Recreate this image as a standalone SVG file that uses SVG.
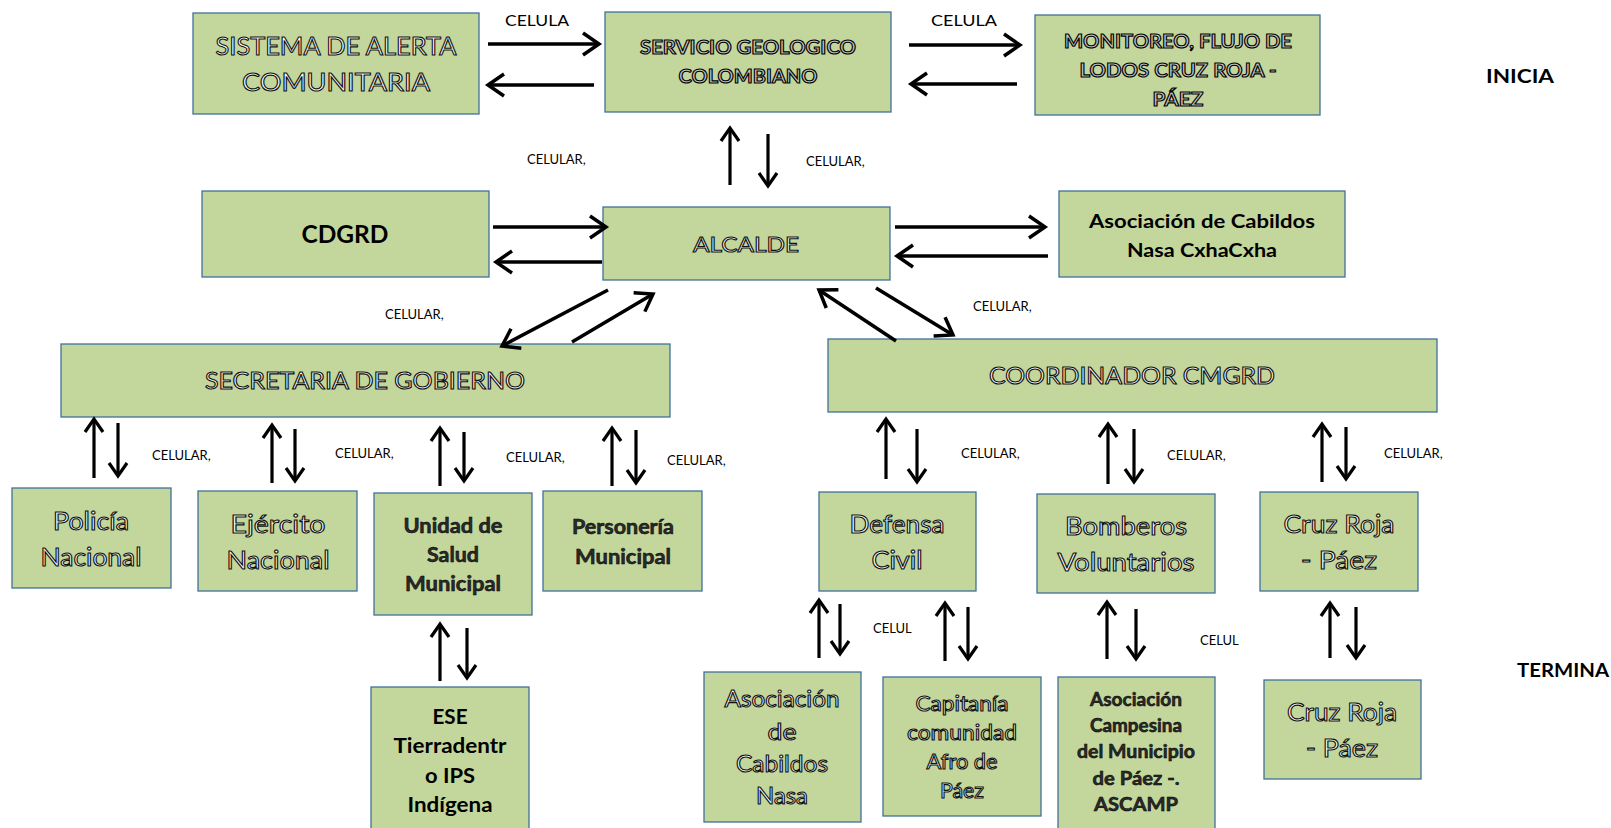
<svg xmlns="http://www.w3.org/2000/svg" width="1611" height="828" viewBox="0 0 1611 828">
<style>
.box{fill:#c3d69b;stroke:#41719c;stroke-width:1.3}
.ol{font-family:Lato,"Noto Sans",sans-serif;fill:#fff;stroke:#111;stroke-width:1.1;text-anchor:middle}
.olb{font-family:Lato,"Noto Sans",sans-serif;font-weight:bold;fill:#2b2b2b;stroke:#000;stroke-width:0.5;text-anchor:middle}
.olg{font-family:Lato,"Noto Sans",sans-serif;font-weight:bold;fill:#c4c4c4;stroke:#000;stroke-width:1.1;text-anchor:middle}
.blk{font-family:Lato,"Noto Sans",sans-serif;font-weight:bold;fill:#000;text-anchor:middle}
.lbl{font-family:Lato,"Noto Sans",sans-serif;font-size:13px;fill:#000}
.arr{stroke:#000;stroke-width:3.5;fill:none;marker-end:url(#ah)}
.va{stroke:#000;stroke-width:3.2;fill:none;marker-end:url(#ahs)}
</style>
<defs>
<marker id="ah" markerUnits="userSpaceOnUse" markerWidth="26" markerHeight="28" viewBox="-22 -14 26 28" refX="0" refY="0" orient="auto">
<path d="M-16,-11 L0,0 L-16,11" fill="none" stroke="#000" stroke-width="3.5"/>
</marker>
<marker id="ahs" markerUnits="userSpaceOnUse" markerWidth="22" markerHeight="24" viewBox="-18 -12 22 24" refX="0" refY="0" orient="auto">
<path d="M-13,-9 L0,0 L-13,9" fill="none" stroke="#000" stroke-width="3.2"/>
</marker>
</defs>

<g id="sistema">
<rect class="box" x="193" y="13" width="286" height="101"/>
<text class="ol" font-size="25"><tspan x="336" y="55" textLength="241" lengthAdjust="spacingAndGlyphs">SISTEMA DE ALERTA</tspan><tspan x="336" y="91" textLength="188" lengthAdjust="spacingAndGlyphs">COMUNITARIA</tspan></text>
</g>
<g id="servicio">
<rect class="box" x="605" y="12" width="286" height="100"/>
<text class="olg" font-size="19"><tspan x="748" y="54" textLength="216" lengthAdjust="spacingAndGlyphs">SERVICIO GEOLOGICO</tspan><tspan x="748" y="83" textLength="139" lengthAdjust="spacingAndGlyphs">COLOMBIANO</tspan></text>
</g>
<g id="monitoreo">
<rect class="box" x="1035" y="15" width="285" height="100"/>
<text class="olg" font-size="19"><tspan x="1178" y="48" textLength="228" lengthAdjust="spacingAndGlyphs">MONITOREO, FLUJO DE</tspan><tspan x="1178" y="77" textLength="197" lengthAdjust="spacingAndGlyphs">LODOS CRUZ ROJA -</tspan><tspan x="1178" y="106" textLength="51" lengthAdjust="spacingAndGlyphs">PÁEZ</tspan></text>
</g>
<g id="inicia"><text class="blk" font-size="19" x="1520" y="83" textLength="68" lengthAdjust="spacingAndGlyphs">INICIA</text></g>
<g id="termina"><text class="blk" font-size="19" x="1563" y="677" textLength="92" lengthAdjust="spacingAndGlyphs">TERMINA</text></g>

<g id="cdgrd">
<rect class="box" x="202" y="191" width="287" height="86"/>
<text class="blk" font-size="24" x="345" y="243" textLength="87" lengthAdjust="spacingAndGlyphs">CDGRD</text>
</g>
<g id="alcalde">
<rect class="box" x="603" y="207" width="287" height="73"/>
<text class="ol" font-size="22" x="746" y="252" textLength="106" lengthAdjust="spacingAndGlyphs">ALCALDE</text>
</g>
<g id="cxhacxha">
<rect class="box" x="1059" y="191" width="286" height="86"/>
<text class="blk" font-size="19"><tspan x="1202" y="228" textLength="226" lengthAdjust="spacingAndGlyphs">Asociación de Cabildos</tspan><tspan x="1202" y="257" textLength="150" lengthAdjust="spacingAndGlyphs">Nasa CxhaCxha</tspan></text>
</g>
<g id="secretaria">
<rect class="box" x="61" y="344" width="609" height="73"/>
<text class="ol" font-size="23" x="365" y="389" textLength="320" lengthAdjust="spacingAndGlyphs">SECRETARIA DE GOBIERNO</text>
</g>
<g id="coordinador">
<rect class="box" x="828" y="339" width="609" height="73"/>
<text class="ol" font-size="23" x="1132" y="384" textLength="286" lengthAdjust="spacingAndGlyphs">COORDINADOR CMGRD</text>
</g>

<g id="policia">
<rect class="box" x="12" y="488" width="159" height="100"/>
<text class="ol" font-size="25"><tspan x="91" y="530" textLength="76" lengthAdjust="spacingAndGlyphs">Policía</tspan><tspan x="91" y="566" textLength="101" lengthAdjust="spacingAndGlyphs">Nacional</tspan></text>
</g>
<g id="ejercito">
<rect class="box" x="198" y="491" width="159" height="100"/>
<text class="ol" font-size="25"><tspan x="278" y="533" textLength="95" lengthAdjust="spacingAndGlyphs">Ejército</tspan><tspan x="278" y="569" textLength="103" lengthAdjust="spacingAndGlyphs">Nacional</tspan></text>
</g>
<g id="unidad">
<rect class="box" x="374" y="493" width="158" height="122"/>
<text class="olb" font-size="20"><tspan x="453" y="533" textLength="99" lengthAdjust="spacingAndGlyphs">Unidad de</tspan><tspan x="453" y="562" textLength="52" lengthAdjust="spacingAndGlyphs">Salud</tspan><tspan x="453" y="591" textLength="96" lengthAdjust="spacingAndGlyphs">Municipal</tspan></text>
</g>
<g id="personeria">
<rect class="box" x="543" y="491" width="159" height="100"/>
<text class="olb" font-size="20"><tspan x="623" y="534" textLength="102" lengthAdjust="spacingAndGlyphs">Personería</tspan><tspan x="623" y="564" textLength="96" lengthAdjust="spacingAndGlyphs">Municipal</tspan></text>
</g>
<g id="ese">
<rect class="box" x="371" y="687" width="158" height="150"/>
<text class="blk" font-size="20"><tspan x="450" y="724" textLength="35" lengthAdjust="spacingAndGlyphs">ESE</tspan><tspan x="450" y="753" textLength="113" lengthAdjust="spacingAndGlyphs">Tierradentr</tspan><tspan x="450" y="783" textLength="50" lengthAdjust="spacingAndGlyphs">o IPS</tspan><tspan x="450" y="812" textLength="85" lengthAdjust="spacingAndGlyphs">Indígena</tspan></text>
</g>

<g id="defensa">
<rect class="box" x="819" y="492" width="157" height="99"/>
<text class="ol" font-size="25"><tspan x="897" y="533" textLength="95" lengthAdjust="spacingAndGlyphs">Defensa</tspan><tspan x="897" y="569" textLength="51" lengthAdjust="spacingAndGlyphs">Civil</tspan></text>
</g>
<g id="bomberos">
<rect class="box" x="1037" y="494" width="178" height="99"/>
<text class="ol" font-size="25"><tspan x="1126" y="535" textLength="122" lengthAdjust="spacingAndGlyphs">Bomberos</tspan><tspan x="1126" y="571" textLength="137" lengthAdjust="spacingAndGlyphs">Voluntarios</tspan></text>
</g>
<g id="cruzroja1">
<rect class="box" x="1260" y="492" width="158" height="99"/>
<text class="ol" font-size="25"><tspan x="1339" y="533" textLength="111" lengthAdjust="spacingAndGlyphs">Cruz Roja</tspan><tspan x="1339" y="569" textLength="76" lengthAdjust="spacingAndGlyphs">- Páez</tspan></text>
</g>
<g id="cabildosnasa">
<rect class="box" x="704" y="672" width="157" height="150"/>
<text class="ol" font-size="23"><tspan x="782" y="707" textLength="115" lengthAdjust="spacingAndGlyphs">Asociación</tspan><tspan x="782" y="740" textLength="29" lengthAdjust="spacingAndGlyphs">de</tspan><tspan x="782" y="772" textLength="92" lengthAdjust="spacingAndGlyphs">Cabildos</tspan><tspan x="782" y="804" textLength="52" lengthAdjust="spacingAndGlyphs">Nasa</tspan></text>
</g>
<g id="capitania">
<rect class="box" x="883" y="677" width="158" height="139"/>
<text class="ol" font-size="21"><tspan x="962" y="711" textLength="93" lengthAdjust="spacingAndGlyphs">Capitanía</tspan><tspan x="962" y="740" textLength="110" lengthAdjust="spacingAndGlyphs">comunidad</tspan><tspan x="962" y="769" textLength="71" lengthAdjust="spacingAndGlyphs">Afro de</tspan><tspan x="962" y="798" textLength="44" lengthAdjust="spacingAndGlyphs">Páez</tspan></text>
</g>
<g id="ascamp">
<rect class="box" x="1058" y="677" width="157" height="160"/>
<text class="olb" font-size="18"><tspan x="1136" y="706" textLength="92" lengthAdjust="spacingAndGlyphs">Asociación</tspan><tspan x="1136" y="732" textLength="92" lengthAdjust="spacingAndGlyphs">Campesina</tspan><tspan x="1136" y="758" textLength="118" lengthAdjust="spacingAndGlyphs">del Municipio</tspan><tspan x="1136" y="785" textLength="87" lengthAdjust="spacingAndGlyphs">de Páez -.</tspan><tspan x="1136" y="811" textLength="84" lengthAdjust="spacingAndGlyphs">ASCAMP</tspan></text>
</g>
<g id="cruzroja2">
<rect class="box" x="1264" y="680" width="157" height="99"/>
<text class="ol" font-size="25"><tspan x="1342" y="721" textLength="110" lengthAdjust="spacingAndGlyphs">Cruz Roja</tspan><tspan x="1342" y="757" textLength="72" lengthAdjust="spacingAndGlyphs">- Páez</tspan></text>
</g>

<g id="connectors">
<line class="arr" x1="488" y1="44" x2="599" y2="44"/>
<line class="arr" x1="594" y1="85" x2="488" y2="85"/>
<line class="arr" x1="909" y1="45" x2="1020" y2="45"/>
<line class="arr" x1="1017" y1="84" x2="911" y2="84"/>
<line class="va" x1="730" y1="185" x2="730" y2="128"/>
<line class="va" x1="768" y1="134" x2="768" y2="186"/>
<line class="arr" x1="493" y1="227" x2="606" y2="227"/>
<line class="arr" x1="602" y1="262" x2="496" y2="262"/>
<line class="arr" x1="895" y1="227" x2="1045" y2="227"/>
<line class="arr" x1="1048" y1="256" x2="897" y2="256"/>
<line class="arr" x1="608" y1="290" x2="502" y2="346"/>
<line class="arr" x1="572" y1="342" x2="653" y2="294"/>
<line class="arr" x1="896" y1="341" x2="819" y2="290"/>
<line class="arr" x1="876" y1="288" x2="953" y2="335"/>
<line class="va" x1="94" y1="478" x2="94" y2="419"/>
<line class="va" x1="118" y1="423" x2="118" y2="476"/>
<line class="va" x1="272" y1="483" x2="272" y2="425"/>
<line class="va" x1="295" y1="429" x2="295" y2="481"/>
<line class="va" x1="440" y1="486" x2="440" y2="428"/>
<line class="va" x1="464" y1="432" x2="464" y2="481"/>
<line class="va" x1="612" y1="486" x2="612" y2="428"/>
<line class="va" x1="636" y1="430" x2="636" y2="483"/>
<line class="va" x1="440" y1="681" x2="440" y2="624"/>
<line class="va" x1="467" y1="628" x2="467" y2="678"/>
<line class="va" x1="886" y1="479" x2="886" y2="419"/>
<line class="va" x1="917" y1="429" x2="917" y2="482"/>
<line class="va" x1="1108" y1="484" x2="1108" y2="424"/>
<line class="va" x1="1134" y1="429" x2="1134" y2="482"/>
<line class="va" x1="1322" y1="482" x2="1322" y2="424"/>
<line class="va" x1="1346" y1="427" x2="1346" y2="479"/>
<line class="va" x1="819" y1="658" x2="819" y2="600"/>
<line class="va" x1="840" y1="604" x2="840" y2="654"/>
<line class="va" x1="945" y1="661" x2="945" y2="603"/>
<line class="va" x1="968" y1="607" x2="968" y2="659"/>
<line class="va" x1="1107" y1="659" x2="1107" y2="602"/>
<line class="va" x1="1136" y1="609" x2="1136" y2="659"/>
<line class="va" x1="1330" y1="658" x2="1330" y2="603"/>
<line class="va" x1="1356" y1="607" x2="1356" y2="658"/>
</g>

<g id="labels">
<text class="lbl" x="505" y="26" style="font-size:16px" textLength="64" lengthAdjust="spacingAndGlyphs">CELULA</text>
<text class="lbl" style="font-size:16px" x="931" y="26" textLength="66" lengthAdjust="spacingAndGlyphs">CELULA</text>
<text class="lbl" x="527" y="164">CELULAR,</text>
<text class="lbl" x="806" y="166">CELULAR,</text>
<text class="lbl" x="385" y="319">CELULAR,</text>
<text class="lbl" x="973" y="311">CELULAR,</text>
<text class="lbl" x="152" y="460">CELULAR,</text>
<text class="lbl" x="335" y="458">CELULAR,</text>
<text class="lbl" x="506" y="462">CELULAR,</text>
<text class="lbl" x="667" y="465">CELULAR,</text>
<text class="lbl" x="961" y="458">CELULAR,</text>
<text class="lbl" x="1167" y="460">CELULAR,</text>
<text class="lbl" x="1384" y="458">CELULAR,</text>
<text class="lbl" x="873" y="633">CELUL</text>
<text class="lbl" x="1200" y="645">CELUL</text>
</g>
</svg>
